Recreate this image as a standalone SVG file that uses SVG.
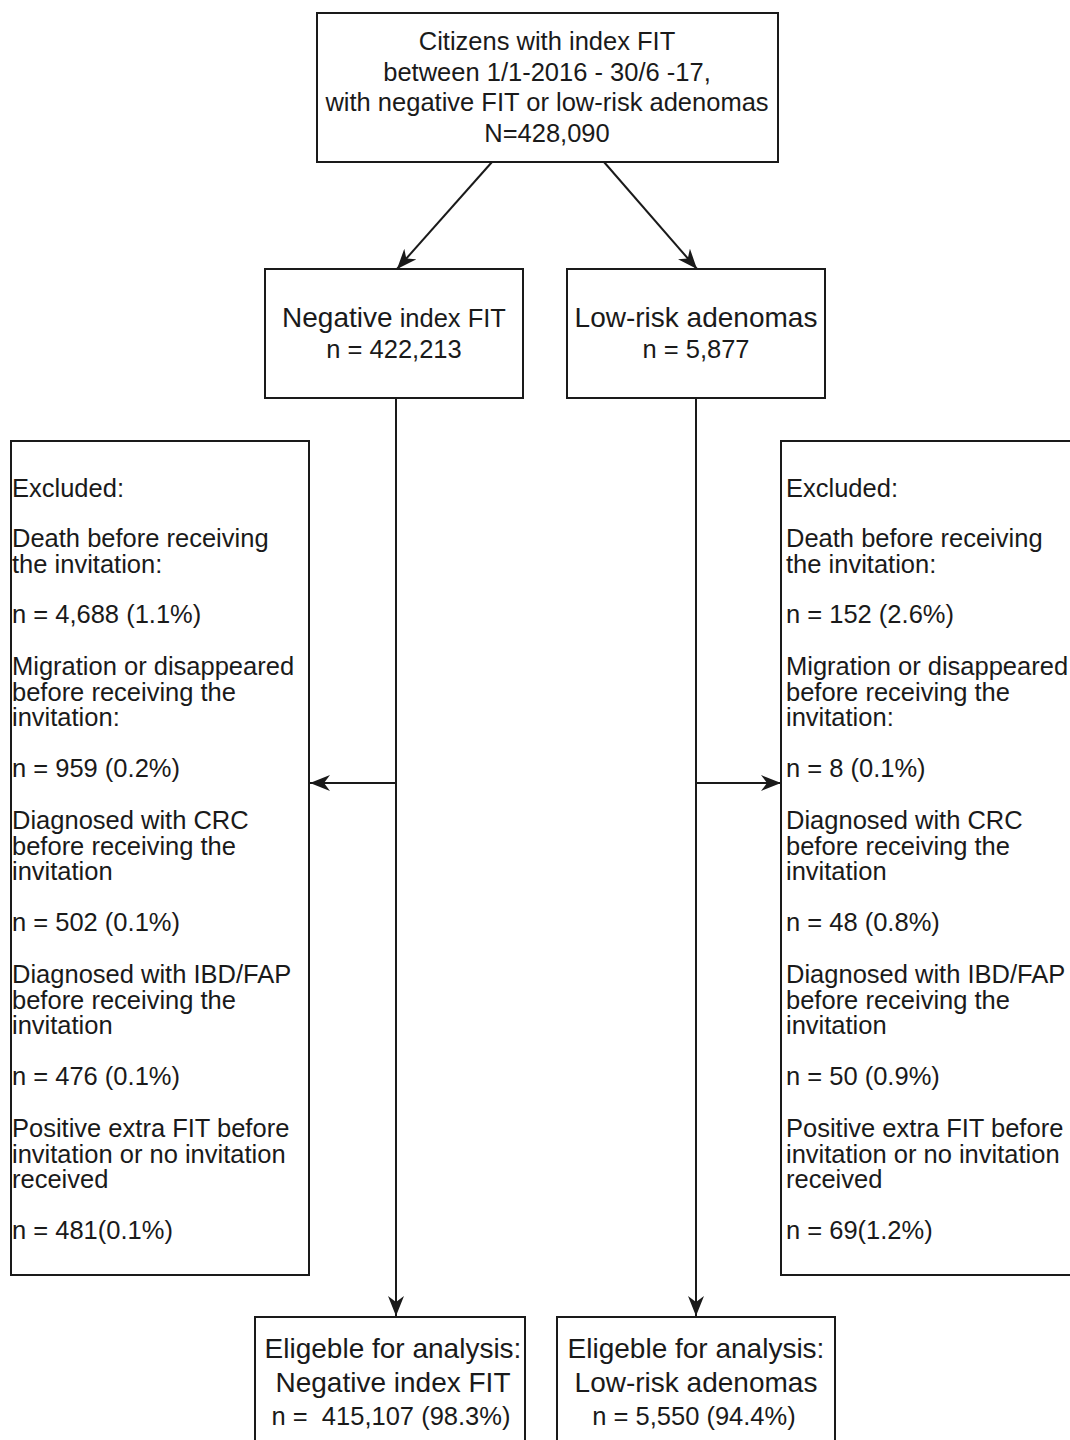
<svg xmlns="http://www.w3.org/2000/svg" width="1070" height="1440" viewBox="0 0 1070 1440">
<style>
.box{fill:#fff;stroke:#1a1a1a;stroke-width:2}
.t{font-family:"Liberation Sans",Arial,sans-serif;fill:#1a1a1a;font-size:25.5px}
.c{text-anchor:middle}
.big{font-size:28px}
.edge{fill:none;stroke:#1a1a1a;stroke-width:2}
</style>
<defs>
<marker id="arr" markerUnits="userSpaceOnUse" markerWidth="20" markerHeight="16" viewBox="0 0 20 16" refX="20" refY="8" orient="auto">
<path d="M0,0 L20,8 L0,16 L6,8 z" fill="#1a1a1a"/>
</marker>
</defs>
<rect width="1070" height="1440" fill="#fff"/>
<g id="connectors">
<line class="edge" x1="492" y1="162" x2="397" y2="269" marker-end="url(#arr)"/>
<line class="edge" x1="604" y1="162" x2="697" y2="269" marker-end="url(#arr)"/>
<line class="edge" x1="396" y1="398" x2="396" y2="1316" marker-end="url(#arr)"/>
<line class="edge" x1="696" y1="398" x2="696" y2="1316" marker-end="url(#arr)"/>
<line class="edge" x1="396" y1="783" x2="310" y2="783" marker-end="url(#arr)"/>
<line class="edge" x1="696" y1="783" x2="781" y2="783" marker-end="url(#arr)"/>
</g>
<g id="top">
<rect class="box" x="317" y="13" width="461" height="149"/>
<text class="t c" x="547" y="50">Citizens with index FIT</text>
<text class="t c" x="547" y="81">between 1/1-2016 - 30/6 -17,</text>
<text class="t c" x="547" y="111">with negative FIT or low-risk adenomas</text>
<text class="t c" x="547" y="142">N=428,090</text>
</g>
<g id="neg">
<rect class="box" x="265" y="269" width="258" height="129"/>
<text class="t c" x="394" y="327"><tspan class="big">Negative</tspan> index FIT</text>
<text class="t c" x="394" y="358">n = 422,213</text>
</g>
<g id="low">
<rect class="box" x="567" y="269" width="258" height="129"/>
<text class="t c big" x="696" y="327">Low-risk adenomas</text>
<text class="t c" x="696" y="358">n = 5,877</text>
</g>
<g id="excl-left">
<rect class="box" x="11" y="441" width="298" height="834"/>
<text class="t" x="12" y="497">Excluded:</text>
<text class="t" x="12" y="547">Death before receiving</text>
<text class="t" x="12" y="572.5">the invitation:</text>
<text class="t" x="12" y="623">n = 4,688 (1.1%)</text>
<text class="t" x="12" y="675">Migration or disappeared</text>
<text class="t" x="12" y="700.5">before receiving the</text>
<text class="t" x="12" y="726">invitation:</text>
<text class="t" x="12" y="777">n = 959 (0.2%)</text>
<text class="t" x="12" y="829">Diagnosed with CRC</text>
<text class="t" x="12" y="854.5">before receiving the</text>
<text class="t" x="12" y="880">invitation</text>
<text class="t" x="12" y="931">n = 502 (0.1%)</text>
<text class="t" x="12" y="983">Diagnosed with IBD/FAP</text>
<text class="t" x="12" y="1008.5">before receiving the</text>
<text class="t" x="12" y="1034">invitation</text>
<text class="t" x="12" y="1085">n = 476 (0.1%)</text>
<text class="t" x="12" y="1137">Positive extra FIT before</text>
<text class="t" x="12" y="1162.5">invitation or no invitation</text>
<text class="t" x="12" y="1188">received</text>
<text class="t" x="12" y="1239">n = 481(0.1%)</text>
</g>
<g id="excl-right">
<rect class="box" x="781" y="441" width="300" height="834"/>
<text class="t" x="786" y="497">Excluded:</text>
<text class="t" x="786" y="547">Death before receiving</text>
<text class="t" x="786" y="572.5">the invitation:</text>
<text class="t" x="786" y="623">n = 152 (2.6%)</text>
<text class="t" x="786" y="675">Migration or disappeared</text>
<text class="t" x="786" y="700.5">before receiving the</text>
<text class="t" x="786" y="726">invitation:</text>
<text class="t" x="786" y="777">n = 8 (0.1%)</text>
<text class="t" x="786" y="829">Diagnosed with CRC</text>
<text class="t" x="786" y="854.5">before receiving the</text>
<text class="t" x="786" y="880">invitation</text>
<text class="t" x="786" y="931">n = 48 (0.8%)</text>
<text class="t" x="786" y="983">Diagnosed with IBD/FAP</text>
<text class="t" x="786" y="1008.5">before receiving the</text>
<text class="t" x="786" y="1034">invitation</text>
<text class="t" x="786" y="1085">n = 50 (0.9%)</text>
<text class="t" x="786" y="1137">Positive extra FIT before</text>
<text class="t" x="786" y="1162.5">invitation or no invitation</text>
<text class="t" x="786" y="1188">received</text>
<text class="t" x="786" y="1239">n = 69(1.2%)</text>
</g>
<g id="elig-neg">
<rect class="box" x="255" y="1317" width="270" height="140"/>
<text class="t c big" x="393" y="1358">Eligeble for analysis:</text>
<text class="t c big" x="393" y="1392">Negative index FIT</text>
<text class="t c" x="391" y="1425" xml:space="preserve">n =  415,107 (98.3%)</text>
</g>
<g id="elig-low">
<rect class="box" x="557" y="1317" width="278" height="140"/>
<text class="t c big" x="696" y="1358">Eligeble for analysis:</text>
<text class="t c big" x="696" y="1392">Low-risk adenomas</text>
<text class="t c" x="694" y="1425">n = 5,550 (94.4%)</text>
</g>
</svg>
